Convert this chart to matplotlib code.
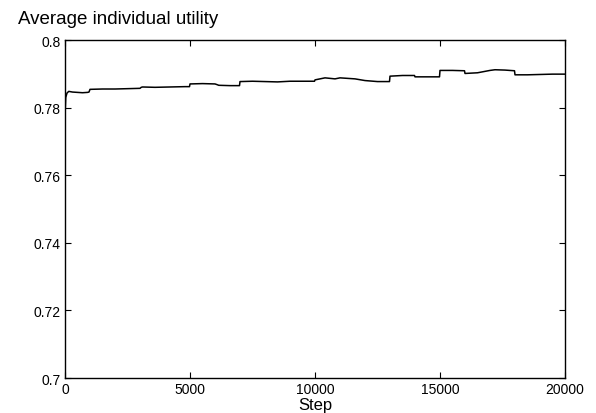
import matplotlib
matplotlib.use("Agg")
import matplotlib.pyplot as plt

plt.rcParams['font.family'] = ['Liberation Sans', 'DejaVu Sans']

steps = [0, 30, 80, 150, 300, 500, 700, 900, 960, 1000, 1500, 2000, 2500, 3000,
         3050, 3100, 3600, 4200, 4800, 4980, 5000, 5500, 6000, 6080, 6150, 6600,
         6980, 7000, 7500, 8000, 8500, 9000, 9500, 9980, 10000, 10400, 10800,
         11000, 11200, 11600, 12000, 12500, 12980, 13000, 13500, 13980, 14000,
         14500, 14980, 15000, 15500, 15980, 16000, 16500, 17000, 17200, 17600,
         17980, 18000, 18500, 19000, 19500, 20000]
utility = [0.7775, 0.7830, 0.7843, 0.7848, 0.7846, 0.7845, 0.7844, 0.7845, 0.7846,
           0.7854, 0.7855, 0.7855, 0.7856, 0.7857, 0.7860, 0.7861, 0.7860, 0.7861,
           0.7862, 0.7862, 0.7870, 0.7871, 0.7870, 0.7868, 0.7866, 0.7865, 0.7865,
           0.7877, 0.7878, 0.7877, 0.7876, 0.7878, 0.7878, 0.7878, 0.7882, 0.7888,
           0.7885, 0.7888, 0.7887, 0.7885, 0.7880, 0.7877, 0.7877, 0.7893, 0.7895,
           0.7895, 0.7891, 0.7891, 0.7891, 0.7910, 0.7910, 0.7909, 0.7901, 0.7903,
           0.7910, 0.7912, 0.7911, 0.7909, 0.7897, 0.7897, 0.7898, 0.7899, 0.7899]

xticks = [0, 5000, 10000, 15000, 20000]
yticks = [0.70, 0.72, 0.74, 0.76, 0.78, 0.80]
ytick_labels = ['0.7', '0.72', '0.74', '0.76', '0.78', '0.8']

fig = plt.figure(figsize=(5.96, 4.14), dpi=100)
ax = fig.add_axes([65/596, 1 - 379/414, 500/596, 338/414])
ax.plot(steps, utility, color='black', linewidth=1.1)
ax.set_xlim(0, 20000)
ax.set_ylim(0.7, 0.8)
ax.set_xticks(xticks)
ax.set_xticklabels([str(t) for t in xticks])
ax.set_yticks(yticks)
ax.set_yticklabels(ytick_labels)
ax.tick_params(direction='in', top=True, right=True, length=4, width=0.8,
               labelsize=10, pad=3)
for s in ax.spines.values():
    s.set_linewidth(1.0)
ax.set_xlabel('Step', fontsize=12, labelpad=0.5)
fig.text(18/596, 1 - 20/414, 'Average individual utility', fontsize=13.5,
         ha='left', va='center')
fig.savefig('out.png', dpi=100)
